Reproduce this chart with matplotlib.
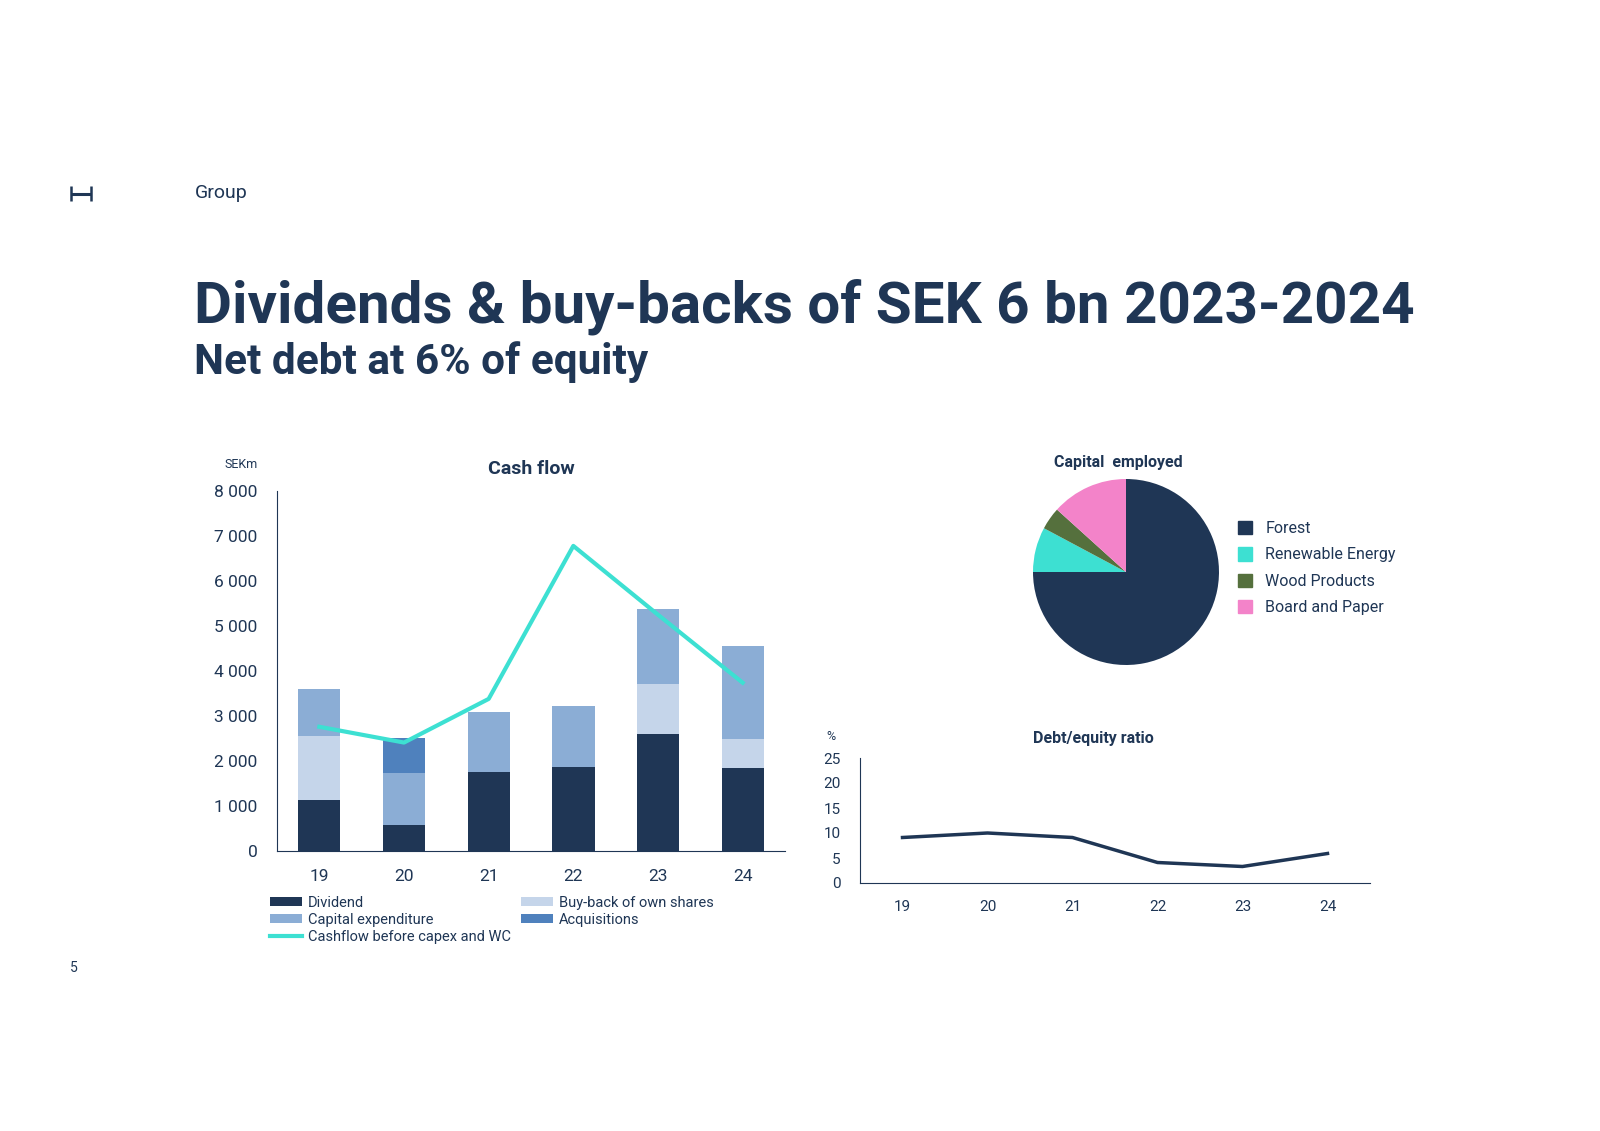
import numpy as np
import matplotlib
matplotlib.use("Agg")
import matplotlib.pyplot as plt
from matplotlib.ticker import FuncFormatter
from matplotlib.lines import Line2D

plt.rcParams['font.family'] = ['Roboto', 'DejaVu Sans']

# data
years = ['19', '20', '21', '22', '23', '24']
dividend = [1140, 570, 1760, 1870, 2610, 1840]
buyback = [1420, 0, 0, 0, 1110, 650]
capex = [1050, 1160, 1320, 1350, 1660, 2060]
acquisitions = [0, 780, 0, 0, 0, 0]
cashflow = [2760, 2410, 3380, 6780, 5250, 3740]

segments = ['Forest', 'Renewable Energy', 'Wood Products', 'Board and Paper']
cap_employed = [75.0, 7.8, 3.9, 13.3]

debt_equity = [9.1, 10.0, 9.1, 4.1, 3.3, 5.9]

navy = '#1F3655'
c_capex = '#8BADD5'
c_buy = '#C5D5EA'
c_acq = '#4F81BD'
c_line = '#3DE0D2'
c_wood = '#55703D'
c_pink = '#F383C9'

W, H = 1600, 1131
fig = plt.figure(figsize=(16, 11.31), dpi=100)


def box(x0, y0, x1, y1):
    # pixel box -> figure fraction
    return [x0 / W, 1 - y1 / H, (x1 - x0) / W, (y1 - y0) / H]


def ftext(x, y, s, **kw):
    fig.text(x / W, 1 - y / H, s, color=navy, **kw)


def fline(xs, ys, **kw):
    fig.add_artist(Line2D([v / W for v in xs], [1 - v / H for v in ys],
                          color=navy, solid_capstyle='butt', **kw))


# header logo
fline([71, 71], [186, 201], lw=1.8)
fline([91, 91], [186, 201], lw=1.8)
fline([71, 91], [194, 194], lw=2.2)
ftext(195, 193, 'Group', fontsize=14, va='center')
ftext(194, 307, 'Dividends & buy-backs of SEK 6 bn 2023-2024', fontsize=42,
      fontweight='bold', va='center')
ftext(194, 362, 'Net debt at 6% of equity', fontsize=30.5, fontweight='bold',
      va='center')
ftext(70, 968, '5', fontsize=10, va='center')

# cash flow chart
ax = fig.add_axes(box(277, 491, 785, 851))
x = np.arange(len(years))
bw = 0.5
b1 = ax.bar(x, dividend, bw, color=navy)
bot = np.array(dividend)
b2 = ax.bar(x, buyback, bw, bottom=bot, color=c_buy)
bot = bot + np.array(buyback)
b3 = ax.bar(x, capex, bw, bottom=bot, color=c_capex)
bot = bot + np.array(capex)
b4 = ax.bar(x, acquisitions, bw, bottom=bot, color=c_acq)
l1, = ax.plot(x, cashflow, color=c_line, lw=3)
ax.set_ylim(0, 8000)
ax.set_xlim(-0.5, 5.5)
ax.set_yticks(range(0, 8001, 1000))
ax.yaxis.set_major_formatter(FuncFormatter(lambda v, p: f'{int(v):,}'.replace(',', ' ')))
ax.set_xticks(x)
ax.set_xticklabels(years)
for s in ['top', 'right']:
    ax.spines[s].set_visible(False)
for s in ['left', 'bottom']:
    ax.spines[s].set_color(navy)
ax.tick_params(length=0, colors=navy, labelsize=12.5)
ax.tick_params(axis='y', pad=14)
ax.tick_params(axis='x', pad=13)
ax.set_title('Cash flow', fontsize=14, fontweight='bold', color=navy, pad=12)
ftext(241, 465, 'SEKm', fontsize=9, ha='center', va='center')
fig.legend([b1, b3, l1, b2, b4],
           ['Dividend', 'Capital expenditure', 'Cashflow before capex and WC',
            'Buy-back of own shares', 'Acquisitions'],
           ncol=2, loc='upper left', bbox_to_anchor=(270 / W, 1 - 896 / H),
           frameon=False, fontsize=10.5, handlelength=2.2, handleheight=0.55,
           labelspacing=0.2, columnspacing=0.7, handletextpad=0.4,
           labelcolor=navy, borderaxespad=0, borderpad=0)

# pie chart
axp = fig.add_axes(box(1033, 479, 1219, 665))
axp.pie(cap_employed, colors=[navy, c_line, c_wood, c_pink], startangle=90,
        counterclock=False, radius=1.0)
axp.set_xlim(-1, 1)
axp.set_ylim(-1, 1)
axp.set_aspect('equal')
ftext(1118, 462, 'Capital  employed', fontsize=11.5, fontweight='bold', ha='center',
      va='center')
pie_handles = [plt.Rectangle((0, 0), 1, 1, color=c) for c in [navy, c_line, c_wood, c_pink]]
fig.legend(pie_handles, segments, loc='upper left',
           bbox_to_anchor=(1238 / W, 1 - 521 / H), frameon=False, fontsize=11.5,
           handlelength=0.9, handleheight=0.9, labelspacing=0.7, handletextpad=0.8,
           labelcolor=navy, borderaxespad=0, borderpad=0)

# debt / equity chart
axd = fig.add_axes(box(860, 758, 1370, 883))
axd.plot(x, debt_equity, color=navy, lw=2.5)
axd.set_ylim(0, 25)
axd.set_yticks(range(0, 26, 5))
axd.set_xlim(-0.5, 5.5)
axd.set_xticks(x)
axd.set_xticklabels(years)
for s in ['top', 'right']:
    axd.spines[s].set_visible(False)
for s in ['left', 'bottom']:
    axd.spines[s].set_color(navy)
axd.tick_params(length=0, colors=navy, labelsize=11)
axd.tick_params(axis='y', pad=14)
axd.tick_params(axis='x', pad=12)
ftext(1093, 738, 'Debt/equity ratio', fontsize=11.5, fontweight='bold', ha='center',
      va='center')
ftext(831, 736, '%', fontsize=9, ha='center', va='center')

fig.savefig('out.png', dpi=100)
